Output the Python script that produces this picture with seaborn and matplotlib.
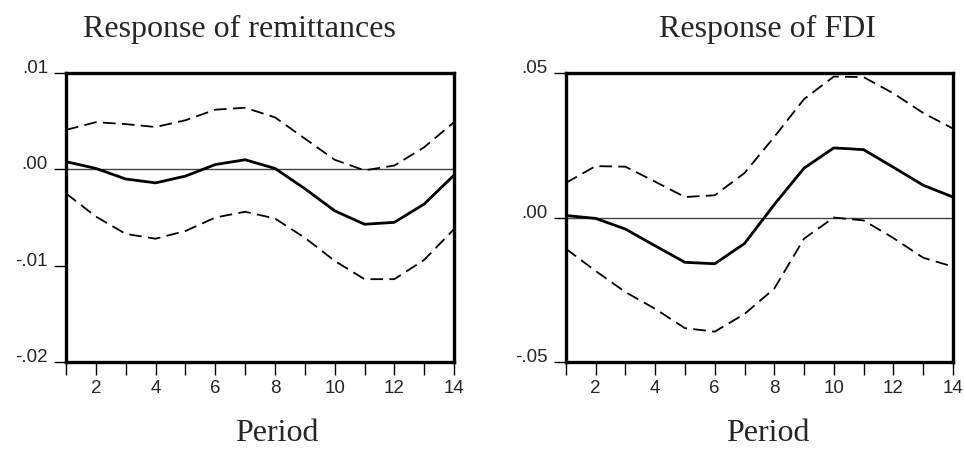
import matplotlib
matplotlib.use('Agg')
import matplotlib.pyplot as plt
import seaborn as sns

periods = list(range(1, 15))

# Response of remittances
rem_mid = [0.0008, 0.0001, -0.0010, -0.0014, -0.0007, 0.0005, 0.0010,
           0.0001, -0.0020, -0.0043, -0.0057, -0.0055, -0.0036, -0.0006]
rem_up = [0.0041, 0.0049, 0.0047, 0.0044, 0.0051, 0.0062, 0.0064,
          0.0054, 0.0032, 0.0010, -0.0001, 0.0004, 0.0023, 0.0049]
rem_lo = [-0.0025, -0.0049, -0.0067, -0.0072, -0.0064, -0.0050, -0.0044,
          -0.0051, -0.0071, -0.0095, -0.0114, -0.0114, -0.0094, -0.0062]

# Response of FDI
fdi_mid = [0.0007, -0.0003, -0.0040, -0.0098, -0.0155, -0.0160, -0.0090,
           0.0045, 0.0171, 0.0241, 0.0235, 0.0174, 0.0112, 0.0071]
fdi_up = [0.0120, 0.0178, 0.0176, 0.0124, 0.0071, 0.0077, 0.0154,
          0.0279, 0.0410, 0.0488, 0.0486, 0.0430, 0.0362, 0.0308]
fdi_lo = [-0.0108, -0.0185, -0.0258, -0.0316, -0.0383, -0.0395, -0.0334,
          -0.0246, -0.0073, 0.0000, -0.0010, -0.0071, -0.0139, -0.0170]

rem_ticks = [0.01, 0.0, -0.01, -0.02]
rem_labels = ['.01', '.00', '-.01', '-.02']
fdi_ticks = [0.05, 0.0, -0.05]
fdi_labels = ['.05', '.00', '-.05']

sns.set_style('white')
plt.rcParams['font.family'] = ['Liberation Sans', 'DejaVu Sans']

fig = plt.figure(figsize=(9.64, 4.5), dpi=100)
ax1 = fig.add_axes([0.0685, 0.1956, 0.4025, 0.642])
ax2 = fig.add_axes([0.587, 0.1956, 0.4015, 0.642])

# (axes, mid, upper, lower, ylim, yticks, ylabels, title, title x, Period x)
panels = [
    (ax1, rem_mid, rem_up, rem_lo, (-0.02, 0.01), rem_ticks, rem_labels,
     'Response of remittances', 0.448, 0.544),
    (ax2, fdi_mid, fdi_up, fdi_lo, (-0.05, 0.05), fdi_ticks, fdi_labels,
     'Response of FDI', 0.522, 0.522),
]

for ax, mid, up, lo, ylim, yt, ylab, title, tx, px in panels:
    ax.axhline(0, color='#444444', lw=1.0, zorder=1)
    sns.lineplot(x=periods, y=mid, ax=ax, color='black', lw=2.0)
    sns.lineplot(x=periods, y=up, ax=ax, color='black', lw=1.3)
    sns.lineplot(x=periods, y=lo, ax=ax, color='black', lw=1.3)
    ax.lines[-1].set_dashes([7, 3.5])
    ax.lines[-2].set_dashes([7, 3.5])
    ax.set_xlim(1, 14)
    ax.set_ylim(*ylim)
    ax.set_xticks(periods)
    ax.set_xticklabels([str(p) if p % 2 == 0 else '' for p in periods])
    ax.set_yticks(yt)
    ax.set_yticklabels(ylab)
    for lab in ax.get_yticklabels():
        lab.set_va('baseline')
    ax.tick_params(axis='x', direction='out', length=9, width=1.0, pad=4,
                   labelsize=13.5, bottom=True, color='black')
    ax.tick_params(axis='y', direction='out', length=9, width=1.0, pad=4,
                   labelsize=13.5, left=True, color='black')
    for s in ax.spines.values():
        s.set_linewidth(2.4)
        s.set_color('black')
    ax.text(tx, 1.1246, title, transform=ax.transAxes, ha='center',
            va='baseline', family='Liberation Serif', fontsize=23)
    ax.text(px, -0.272, 'Period', transform=ax.transAxes, ha='center',
            va='baseline', family='Liberation Serif', fontsize=23)
    ax.set_xlabel('')
    ax.set_ylabel('')

fig.savefig('out.png', dpi=100)
